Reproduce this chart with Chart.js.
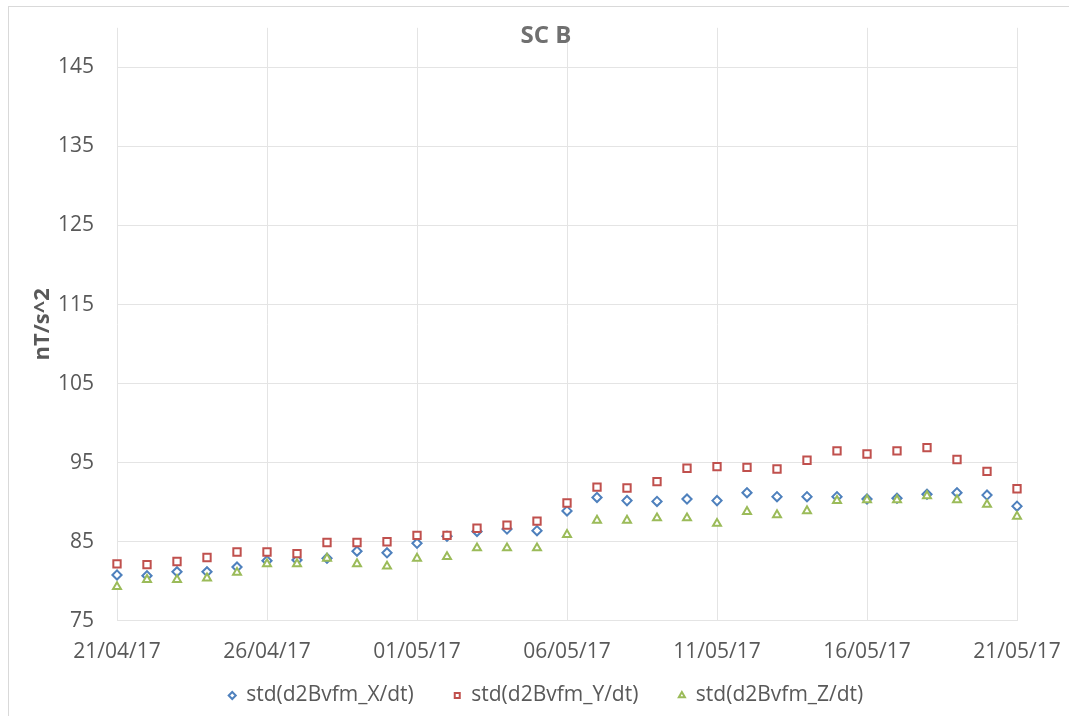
<!DOCTYPE html>
<html>
<head>
<meta charset="utf-8">
<script src="https://cdn.jsdelivr.net/npm/chart.js@4/dist/chart.umd.min.js"></script>
<style>
    html, body { margin: 0; padding: 0; background: #fff; overflow: hidden; }
    #wrap {
        position: absolute; left: 8px; top: 6px;
        width: 1060px; height: 709px;
        border-left: 1px solid #d9d9d9; border-top: 1px solid #d9d9d9;
    }
</style>
</head>
<body>
<div id="wrap"><canvas id="myChart"></canvas></div>
<script>
const dates = ['21/04/17', '22/04/17', '23/04/17', '24/04/17', '25/04/17', '26/04/17', '27/04/17', '28/04/17',
    '29/04/17', '30/04/17', '01/05/17', '02/05/17', '03/05/17', '04/05/17', '05/05/17', '06/05/17',
    '07/05/17', '08/05/17', '09/05/17', '10/05/17', '11/05/17', '12/05/17', '13/05/17', '14/05/17',
    '15/05/17', '16/05/17', '17/05/17', '18/05/17', '19/05/17', '20/05/17', '21/05/17'];
const xTickLabels = ['21/04/17', '26/04/17', '01/05/17', '06/05/17', '11/05/17', '16/05/17', '21/05/17'];
const yTicks = [75, 85, 95, 105, 115, 125, 135, 145];

const stdX = [80.8, 80.7, 81.2, 81.2, 81.8, 82.6, 82.7, 82.9, 83.8, 83.6, 84.8, 85.7, 86.3, 86.6, 86.4, 88.9,
    90.6, 90.2, 90.1, 90.4, 90.2, 91.2, 90.7, 90.7, 90.7, 90.4, 90.5, 91.0, 91.2, 90.9, 89.5];
const stdY = [82.2, 82.1, 82.5, 83.0, 83.7, 83.7, 83.5, 84.9, 84.9, 85.0, 85.8, 85.8, 86.7, 87.1, 87.6, 89.9,
    91.9, 91.8, 92.6, 94.3, 94.5, 94.4, 94.2, 95.3, 96.5, 96.1, 96.5, 96.9, 95.4, 93.9, 91.7];
const stdZ = [79.3, 80.2, 80.2, 80.4, 81.1, 82.2, 82.2, 82.9, 82.2, 81.9, 82.9, 83.1, 84.2, 84.2, 84.2, 85.9,
    87.7, 87.7, 88.0, 88.0, 87.3, 88.8, 88.4, 88.9, 90.2, 90.3, 90.3, 90.8, 90.3, 89.7, 88.2];

const font = "'Open Sans', 'Noto Sans', sans-serif";
const gridColor = '#e4e4e4';

function series(label, data, color, style, radius, order) {
    return {
        label: label,
        data: data,
        showLine: false,
        pointStyle: style,
        pointRadius: radius,
        pointBorderWidth: 2,
        pointBorderColor: color,
        pointBackgroundColor: '#fff',
        borderColor: color,
        backgroundColor: '#fff',
        order: order
    };
}

new Chart(document.getElementById('myChart'), {
    type: 'line',
    data: {
        labels: dates,
        datasets: [
            series('std(d2Bvfm_X/dt)', stdX, '#4f81bd', 'rectRot', 4.6, 3),
            series('std(d2Bvfm_Y/dt)', stdY, '#c0504d', 'rect', 5.2, 2),
            series('std(d2Bvfm_Z/dt)', stdZ, '#9bbb59', 'triangle', 4.6, 1)
        ]
    },
    options: {
        responsive: true,
        maintainAspectRatio: false,
        animation: false,
        events: [],
        layout: { padding: { left: 14, right: 0, top: 0, bottom: 0 } },
        scales: {
            x: {
                type: 'category',
                offset: false,
                border: { display: false },
                grid: {
                    drawTicks: false,
                    color: (c) => c.index % 5 === 0 ? gridColor : 'transparent'
                },
                ticks: {
                    autoSkip: false,
                    maxRotation: 0,
                    minRotation: 0,
                    padding: 19,
                    color: '#595959',
                    font: { family: font, size: 21 },
                    callback: function(val) {
                        const l = this.getLabelForValue(val);
                        return xTickLabels.includes(l) ? l : '';
                    }
                },
                // labels stay put; shrink the box so the legend sits closer (and don't clip the labels to it)
                afterFit: (s) => {
                    s.paddingRight = 52;
                    s.height -= 39;
                    s._computeLabelArea = () => undefined;
                }
            },
            y: {
                min: 75,
                max: 150,
                border: { display: false },
                grid: { drawTicks: false, color: gridColor },
                ticks: {
                    padding: 23,
                    color: '#595959',
                    font: { family: font, size: 21 }
                },
                afterBuildTicks: (s) => { s.ticks = yTicks.map(v => ({ value: v })); },
                afterFit: (s) => { s.width = 94; s.paddingTop = 0; s.paddingBottom = 0; },
                title: {
                    display: true,
                    text: 'nT/s^2',
                    color: '#595959',
                    font: { family: font, size: 22, weight: 'bold' },
                    padding: { top: 7, bottom: 0 }
                }
            }
        },
        plugins: {
            title: {
                display: true,
                text: 'SC B',
                color: '#707070',
                font: { family: font, size: 24, weight: 'bold' },
                padding: { top: 15, bottom: -23 }
            },
            legend: {
                position: 'bottom',
                labels: {
                    usePointStyle: true,
                    boxWidth: 7,
                    boxHeight: 5,
                    padding: 40,
                    color: '#595959',
                    font: { family: font, size: 21 },
                    sort: (a, b) => a.datasetIndex - b.datasetIndex
                }
            },
            tooltip: { enabled: false }
        }
    }
});
</script>
</body>
</html>
